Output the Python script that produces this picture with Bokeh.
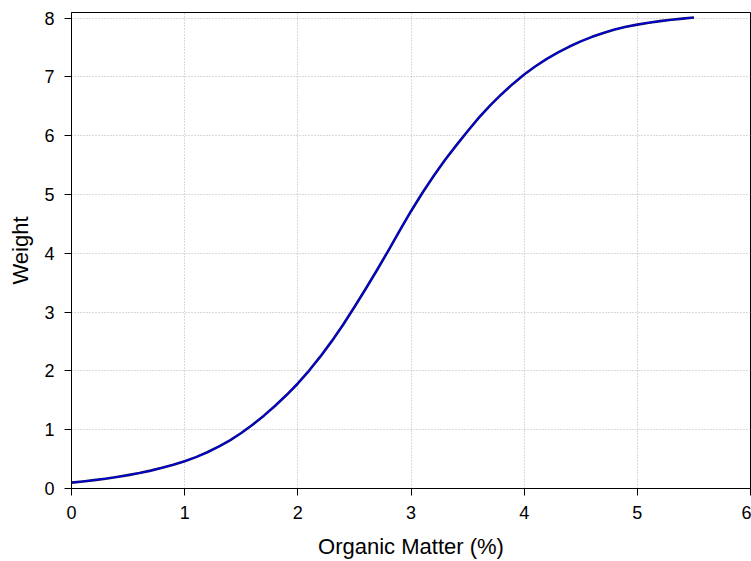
from bokeh.plotting import figure
from bokeh.models import Range1d, FixedTicker
from bokeh.embed import file_html
from bokeh.resources import INLINE

organic_matter = [0.0, 0.1, 0.2, 0.3, 0.4, 0.5, 0.6, 0.7, 0.8, 0.9,
                  1.0, 1.1, 1.2, 1.3, 1.4, 1.5, 1.6, 1.7, 1.8, 1.9,
                  2.0, 2.1, 2.2, 2.3, 2.4, 2.5, 2.6, 2.7, 2.8, 2.9,
                  3.0, 3.1, 3.2, 3.3, 3.4, 3.5, 3.6, 3.7, 3.8, 3.9,
                  4.0, 4.1, 4.2, 4.3, 4.4, 4.5, 4.6, 4.7, 4.8, 4.9,
                  5.0, 5.1, 5.2, 5.3, 5.4, 5.5]
weight = [0.100, 0.120, 0.142, 0.167, 0.195, 0.227, 0.263, 0.304, 0.351, 0.404,
          0.464, 0.534, 0.616, 0.711, 0.820, 0.944, 1.084, 1.239, 1.407, 1.589,
          1.786, 2.006, 2.246, 2.506, 2.786, 3.086, 3.396, 3.716, 4.046, 4.386,
          4.716, 5.026, 5.316, 5.586, 5.836, 6.076, 6.306, 6.516, 6.706, 6.881,
          7.041, 7.181, 7.306, 7.416, 7.516, 7.604, 7.681, 7.748, 7.806, 7.851,
          7.889, 7.921, 7.948, 7.971, 7.991, 8.009]
x_ticks = [0, 1, 2, 3, 4, 5, 6]
y_ticks = [0, 1, 2, 3, 4, 5, 6, 7, 8]

FONT = "Liberation Sans"

p = figure(width=751, height=561, output_backend="svg", toolbar_location=None,
           x_range=Range1d(0, 6), y_range=Range1d(0, 8.095))
p.min_border_left = 71
p.min_border_right = 1
p.min_border_top = 12
p.min_border_bottom = 73
p.background_fill_color = "white"
p.border_fill_color = "white"
p.outline_line_color = "black"
p.outline_line_width = 1

p.line(organic_matter, weight, line_color="#101060", line_width=2.6, line_join="round")
p.line(organic_matter, weight, line_color="#0000e8", line_width=1.3, line_join="round")

for ax, ticks in ((p.xaxis, x_ticks), (p.yaxis, y_ticks)):
    ax.ticker = FixedTicker(ticks=ticks)
    ax.axis_line_color = "black"
    ax.major_tick_line_color = "black"
    ax.major_tick_in = 0
    ax.major_tick_out = 7
    ax.minor_tick_line_color = None
    ax.major_label_text_font = FONT
    ax.major_label_text_font_size = "18px"
    ax.major_label_text_color = "black"
    ax.axis_label_text_font = FONT
    ax.axis_label_text_font_size = "22px"
    ax.axis_label_text_font_style = "normal"
    ax.axis_label_text_color = "black"

p.xaxis.axis_label = "Organic Matter (%)"
p.yaxis.axis_label = "Weight"
p.xaxis.major_label_standoff = 10
p.yaxis.major_label_standoff = 10
p.xaxis.axis_label_standoff = 12
p.yaxis.axis_label_standoff = 8

for g in (p.xgrid, p.ygrid):
    g.grid_line_color = "#b4b4b4"
    g.grid_line_dash = "1 2"
    g.grid_line_width = 1

open("out.html", "w").write(file_html(p, INLINE))
